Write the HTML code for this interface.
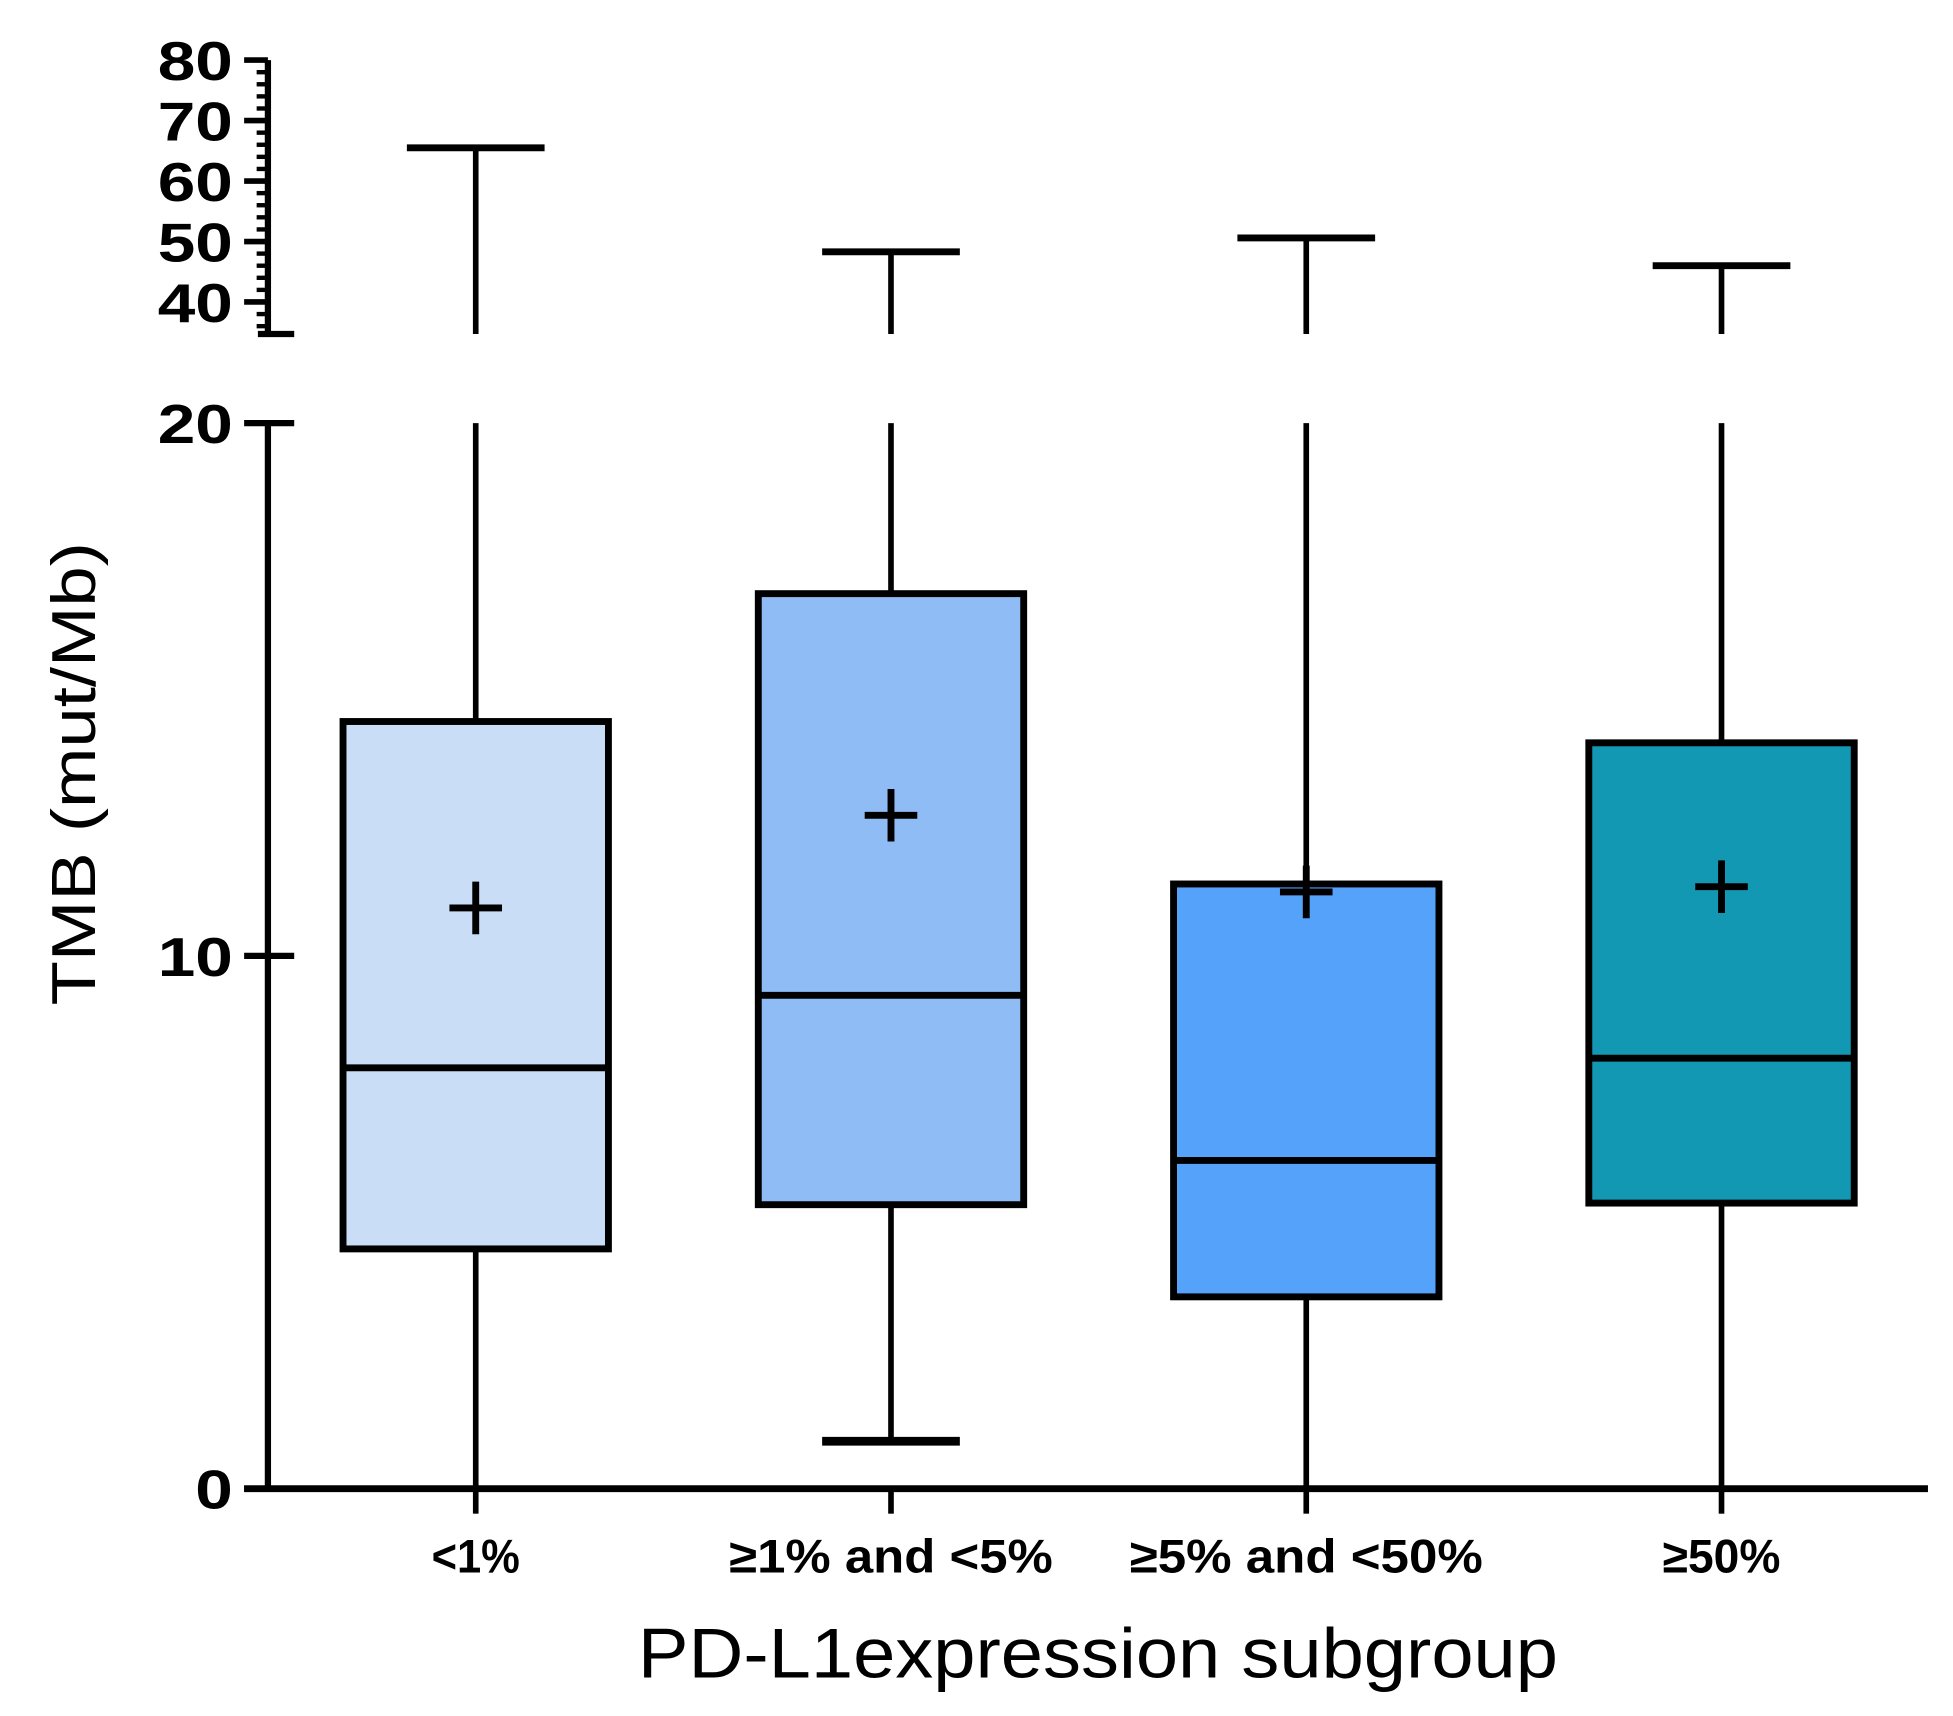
<!DOCTYPE html>
<html><head><meta charset="utf-8"><style>
html,body{margin:0;padding:0;background:#fff;}
svg{display:block;}
text{font-family:"Liberation Sans",Arial,sans-serif;fill:#000;}
</style></head><body>
<svg id="chart" width="1953" height="1716" viewBox="0 0 1560 1370.6" preserveAspectRatio="none" xmlns="http://www.w3.org/2000/svg"></svg>
<script>
const categories = ["<1%", "\u22651% and <5%", "\u22655% and <50%", "\u226550%"];
const whiskerMax = [65.5, 48.3, 50.6, 46.0];
const q3Values = [14.4, 16.8, 11.35, 14.0];
const medianValues = [7.9, 9.26, 6.16, 8.08];
const q1Values = [4.5, 5.33, 3.6, 5.36];
const whiskerMin = [0, 0.89, 0, 0];
const meanValues = [10.9, 12.64, 11.2, 11.3];
const boxColors = ["#c9ddf7", "#8fbcf4", "#55a2fb", "#1298b2"];
const lowerTicks = [0, 10, 20];
const upperTicks = [40, 50, 60, 70, 80];

const NS = "http://www.w3.org/2000/svg";
const svg = document.getElementById("chart");
const AX = 214, X0 = 195, X1 = 1540;
const LOW_Y0 = 1189, LOW_PER = 42.55, LOW_TOP = 20;
const UP_Y80 = 48, UP_PER = 4.83, UP_BOTTOM = 34.7;
function yScale(v){
  if (v <= LOW_TOP) return LOW_Y0 - v * LOW_PER;
  return UP_Y80 + (80 - v) * UP_PER;
}
const UP_Y_BOT = yScale(UP_BOTTOM);
function xScale(i){ return 380 + i * 331.7; }

function el(tag, attrs, parent){
  const e = document.createElementNS(NS, tag);
  for (const k in attrs) e.setAttribute(k, attrs[k]);
  (parent || svg).appendChild(e);
  return e;
}
function line(x1,y1,x2,y2,w,p){ return el("line",{x1,y1,x2,y2,stroke:"#000","stroke-width":w||4.5},p); }

const yAxis = el("g",{});


line(AX, UP_Y80, AX, UP_Y_BOT, 5, yAxis);
line(206, UP_Y_BOT, 235, UP_Y_BOT, 5, yAxis);
line(AX, yScale(20), AX, LOW_Y0, 5, yAxis);
for (let v = 36; v <= 80; v += 2) {
  const major = v % 10 === 0;
  line(major ? 195 : 205, yScale(v), AX, yScale(v), major ? 4.5 : 3.5, yAxis);
}
function yLabel(v){
  const s = String(v);
  const t = el("text",{x:186, y:yScale(v)+16, "text-anchor":"end","font-size":44,"font-weight":"bold", textLength: s.length*30, lengthAdjust:"spacingAndGlyphs"}, yAxis);
  
  
  t.textContent = s;
}
upperTicks.forEach(yLabel);
lowerTicks.forEach(v => { line(195, yScale(v), 235, yScale(v), 5, yAxis); yLabel(v); });
const xAxis = el("g",{});


line(X0, LOW_Y0, X1, LOW_Y0, 5.5, xAxis);

categories.forEach((c, i) => {
  const cx = xScale(i), hw = 106, cw = 55;
  const g = el("g",{});
  
  
  line(cx, LOW_Y0, cx, LOW_Y0 + 20, 4.5, g);
  if (whiskerMax[i] > LOW_TOP) {
    line(cx, yScale(whiskerMax[i]), cx, UP_Y_BOT, 4.5, g);
    line(cx, yScale(20), cx, yScale(q3Values[i]), 4.5, g);
  } else {
    line(cx, yScale(whiskerMax[i]), cx, yScale(q3Values[i]), 4.5, g);
  }
  line(cx - cw, yScale(whiskerMax[i]), cx + cw, yScale(whiskerMax[i]), 5.5, g);
  line(cx, yScale(q1Values[i]), cx, yScale(whiskerMin[i]), 4.5, g);
  if (whiskerMin[i] > 0) line(cx - cw, yScale(whiskerMin[i]), cx + cw, yScale(whiskerMin[i]), 7, g);
  const r = el("rect",{x:cx-hw, y:yScale(q3Values[i]), width:2*hw, height:yScale(q1Values[i])-yScale(q3Values[i]), fill:boxColors[i], stroke:"#000","stroke-width":5.5}, g);
  
  
  const m = line(cx - hw, yScale(medianValues[i]), cx + hw, yScale(medianValues[i]), 5.5, g);
  
  
  const my = yScale(meanValues[i]);
  line(cx - 21, my, cx + 21, my, 5.5, g);
  line(cx, my - 21, cx, my + 21, 5.5, g);
  const t = el("text",{x:cx, y:1256, "text-anchor":"middle","font-size":38,"font-weight":"bold", textLength: c.length*23.5, lengthAdjust:"spacingAndGlyphs"}, g);
  
  
  t.textContent = c;
});

const yt = el("text",{x:0,y:0,transform:"translate(76,618) rotate(-90)","text-anchor":"middle","font-size":50, textLength:370, lengthAdjust:"spacingAndGlyphs"});


yt.textContent = "TMB (mut/Mb)";
const xt = el("text",{x:877,y:1340,"text-anchor":"middle","font-size":56, textLength:735, lengthAdjust:"spacingAndGlyphs"});


xt.textContent = "PD-L1expression subgroup";
</script>
</body></html>
